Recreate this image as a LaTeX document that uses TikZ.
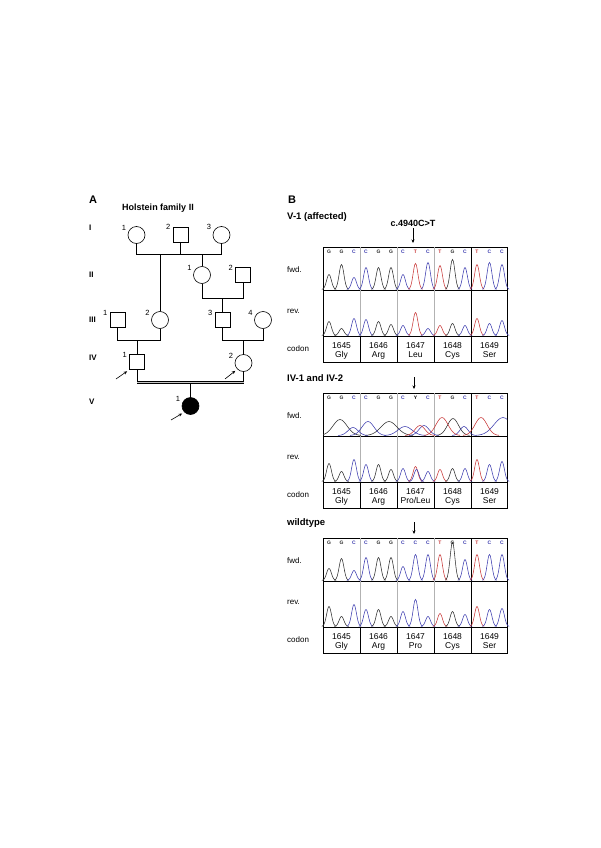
\documentclass[tikz,border=0pt]{standalone}
\usepackage{fontspec}
\setmainfont{Liberation Sans}
\usetikzlibrary{arrows.meta}
\definecolor{tG}{RGB}{45,45,45}
\definecolor{tC}{RGB}{60,60,175}
\definecolor{tT}{RGB}{200,55,55}
\colorlet{tY}{black}
\tikzset{
  male/.style={draw,rectangle,minimum size=15pt,inner sep=0pt,line width=0.6pt},
  female/.style={draw,circle,minimum size=17pt,inner sep=0pt,line width=0.6pt},
  idnum/.style={font=\fontsize{7.5}{8}\selectfont,inner sep=0pt},
  genlabel/.style={font=\bfseries\fontsize{8}{9}\selectfont,anchor=west,inner sep=0pt},
  pline/.style={line width=0.6pt},
  consang/.style={line width=0.5pt,double=gray!45,double distance=1.6pt},
  proband/.style={line width=0.6pt,-{Stealth[length=3.5pt,width=3pt]},shorten >=2.5pt},
  panellabel/.style={font=\bfseries\fontsize{11}{12}\selectfont,inner sep=0pt},
  famtitle/.style={font=\bfseries\fontsize{9}{10}\selectfont,inner sep=0pt},
  grouplabel/.style={font=\bfseries\fontsize{9.5}{11}\selectfont,anchor=west,inner sep=0pt},
  rowlabel/.style={font=\fontsize{8}{9}\selectfont,anchor=west,inner sep=0pt},
  aalabel/.style={font=\fontsize{8.5}{9}\selectfont,align=center,inner sep=0pt},
  seqletter/.style={font=\bfseries\fontsize{5}{5}\selectfont,inner sep=0pt},
  cellframe/.style={line width=0.6pt},
  celldiv/.style={line width=0.6pt,gray!60},
  mutarrow/.style={line width=0.6pt,-{Stealth[length=3.5pt,width=3pt]}},
}
% one trace peak: x, baseline, height, width, colour
\newcommand\peak[5]{\draw[color=#5,line width=0.55pt,domain=-3*#4:3*#4,samples=21,smooth] plot ({#1+\x},{#2-#3*exp(-(\x*\x)/(2*#4*#4))});}
% a row of 15 peaks: baseline, width, list base/height
\newcommand\peakrow[3]{\foreach \c/\h [count=\i from 0] in {#3} {\pgfmathsetmacro\px{329+37*int(\i/3)+12.5*mod(\i,3)}\peak{\px}{#1}{\h}{#2}{t\c}}}
% frame, labels and codons of one read: prefix, top, aa of 1647, called bases
\newcommand\seqblock[4]{%
\begin{scope}[shift={(0,#2)}]
\draw[cellframe] (323,0) rectangle (507,115) (323,43) -- (507,43) (323,89) -- (507,89);
\foreach \k in {1,2,3} {\draw[celldiv] (323+37*\k,0) -- (323+37*\k,89);}
\draw[cellframe] (471,0) -- (471,89);
\foreach \k in {1,...,4} {\draw[cellframe] (323+37*\k,89) -- (323+37*\k,115);}
\node[rowlabel] (#1-fwd) at (287,23) {fwd.};
\node[rowlabel] (#1-rev) at (287,64) {rev.};
\node[rowlabel] (#1-codon) at (287,102) {codon};
\foreach \n/\aa [count=\k from 0] in {1645/Gly,1646/Arg,1647/{#3},1648/Cys,1649/Ser}
  {\node[aalabel] (#1-aa\k) at (341.5+37*\k,103.5) {\n\\\aa};}
\foreach \c [count=\i from 0] in {#4} {\pgfmathsetmacro\px{329+37*int(\i/3)+12.5*mod(\i,3)}
  \node[seqletter,text=t\c] (#1-s\i) at (\px,4.5) {\c};}
\end{scope}}
\begin{document}
\begin{tikzpicture}[x=1pt,y=-1pt]
\useasboundingbox (0,0) rectangle (600,848);
% A: pedigree
\node[panellabel] (A) at (93,200) {A};
\node[famtitle] (fam) at (158,208) {Holstein family II};
\node[genlabel] (gI) at (89,228) {I};
\node[genlabel] (gII) at (89,275) {II};
\node[genlabel] (gIII) at (89,320) {III};
\node[genlabel] (gIV) at (89,358) {IV};
\node[genlabel] (gV) at (89,402) {V};
\node[female,label={[idnum,label distance=2.5pt]155:1}] (i1) at (136.5,235) {};
\node[male,label={[idnum,label distance=2.5pt]155:2}] (i2) at (180.5,234.5) {};
\node[female,label={[idnum,label distance=2.5pt]155:3}] (i3) at (221.5,235) {};
\node[female,label={[idnum,label distance=2.5pt]155:1}] (ii1) at (202,275) {};
\node[male,label={[idnum,label distance=2.5pt]155:2}] (ii2) at (243,275) {};
\node[male,label={[idnum,label distance=2.5pt]155:1}] (iii1) at (117.5,320) {};
\node[female,label={[idnum,label distance=2.5pt]155:2}] (iii2) at (160,320) {};
\node[male,label={[idnum,label distance=2.5pt]155:3}] (iii3) at (222.5,320) {};
\node[female,label={[idnum,label distance=2.5pt]155:4}] (iii4) at (263,320) {};
\node[male,label={[idnum,label distance=2.5pt]155:1}] (iv1) at (137,362) {};
\node[female,label={[idnum,label distance=2.5pt]155:2}] (iv2) at (243.5,363) {};
\node[female,fill=black,label={[idnum,label distance=2.5pt]155:1}] (v1) at (190.5,406) {};
\coordinate (mI) at (0,254);\coordinate (mII) at (0,298);\coordinate (mIII) at (0,340);\coordinate (mIV) at (0,382.5);
\draw[pline] (i1) -- (i1 |- mI) -- (i3 |- mI) -- (i3);\draw[pline] (i2) -- (i2 |- mI);
\draw[pline] (iii2 |- mI) -- (iii2);\draw[pline] (ii1 |- mI) -- (ii1);
\draw[pline] (ii1) -- (ii1 |- mII) -- (ii2 |- mII) -- (ii2);\draw[pline] (iii3 |- mII) -- (iii3);
\draw[pline] (iii1) -- (iii1 |- mIII) -- (iii2 |- mIII) -- (iii2);\draw[pline] (iv1.north |- mIII) -- (iv1.north);
\draw[pline] (iii3) -- (iii3 |- mIII) -- (iii4 |- mIII) -- (iii4);\draw[pline] (iv2.north |- mIII) -- (iv2.north);
\draw[pline] (iv1.south) -- (iv1.south |- mIV);\draw[pline] (iv2.south) -- (iv2.south |- mIV);
\draw[consang] (iv1 |- mIV) -- (iv2 |- mIV);\draw[pline] (v1 |- mIV) ++(0,1.3) -- (v1);
\coordinate (p-iv1) at (116,379);\coordinate (p-iv2) at (225,379);\coordinate (p-v1) at (171,420);
\draw[proband] (p-iv1) -- (iv1.south west);\draw[proband] (p-iv2) -- (iv2.south west);\draw[proband] (p-v1) -- (v1.south west);
% B: sequence traces
\node[panellabel] (B) at (292,200) {B};
\node[grouplabel] (g1) at (287,217) {V-1 (affected)};
\node[famtitle] (mut) at (413,223) {c.4940C>T};
\coordinate (t1) at (413,243);\draw[mutarrow,shorten <=2pt] (mut) -- (t1);
\node[grouplabel] (g2) at (287,378) {IV-1 and IV-2};
\coordinate (h2) at (414,377);\coordinate (t2) at (414,389);\draw[mutarrow] (h2) -- (t2);
\node[grouplabel] (g3) at (287,523) {wildtype};
\coordinate (h3) at (414,522);\coordinate (t3) at (414,534);\draw[mutarrow] (h3) -- (t3);
\seqblock{b1}{247}{Leu}{G,G,C,C,G,G,C,T,C,T,G,C,T,C,C}
\seqblock{b2}{393}{Pro/Leu}{G,G,C,C,G,G,C,Y,C,T,G,C,T,C,C}
\seqblock{b3}{538}{Pro}{G,G,C,C,G,G,C,C,C,T,G,C,T,C,C}
\peakrow{289.5}{2.4}{G/15,G/25,C/12,C/22,G/22,G/22,C/15,T/26,C/27,T/24,G/30,C/22,T/25,C/27,C/25}
\peakrow{335.5}{2.4}{G/14,G/7,C/17,C/16,G/14,G/11,C/10,T/23,C/7,T/10,G/12,C/10,T/17,C/12,C/15}
\begin{scope}
\clip (323,393) rectangle (507,436);
\foreach \px/\ph/\pw/\pc in {340/16/7/G,389/14/8/G,453/17/5.5/G,353/8/5/C,368/14/6/C,405/9/7/C,424/10/5/C,464/9/4/C,503/18/9/C,420/10/5/T,442/18/6/T,481/18/6/T}
  {\peak{\px}{435.5}{\ph}{\pw}{t\pc}}
\end{scope}
\peakrow{481.5}{2.4}{G/18,G/10,C/22,C/17,G/17,G/12,C/13,T/15,C/10,T/12,G/13,C/13,T/22,C/17,C/20}
\peak{416.5}{481.5}{12}{2.4}{tC}
\peakrow{580.5}{2.4}{G/12,G/22,C/10,C/23,G/23,G/23,C/14,C/26,C/26,T/26,G/38,C/21,T/26,C/26,C/26}
\peakrow{626.5}{2.4}{G/20,G/10,C/22,C/17,G/17,G/10,C/15,C/27,C/10,T/13,G/15,C/12,T/20,C/17,C/18}
\end{tikzpicture}
\end{document}
